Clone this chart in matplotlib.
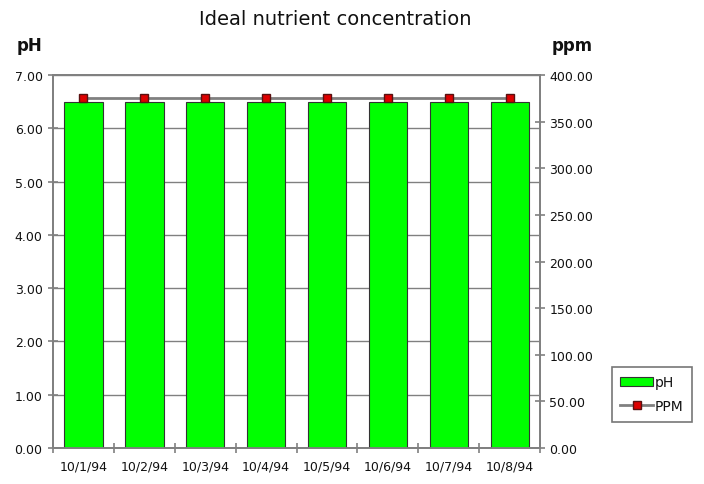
import matplotlib
matplotlib.use("Agg")
import matplotlib.pyplot as plt
import numpy as np

dates = ["10/1/94", "10/2/94", "10/3/94", "10/4/94",
         "10/5/94", "10/6/94", "10/7/94", "10/8/94"]
ph_values = [6.5, 6.5, 6.5, 6.5, 6.5, 6.5, 6.5, 6.5]
ppm_values = [375, 375, 375, 375, 375, 375, 375, 375]
ph_ticks = [0, 1, 2, 3, 4, 5, 6, 7]
ppm_ticks = [0, 50, 100, 150, 200, 250, 300, 350, 400]

GREEN = "#00ff00"
GRID = "#808080"
INK = "#111111"

plt.rcParams["font.family"] = ["DejaVu Sans"]
plt.rcParams["font.size"] = 9
plt.rcParams["text.color"] = INK
plt.rcParams["xtick.labelcolor"] = INK
plt.rcParams["ytick.labelcolor"] = INK

fig = plt.figure(figsize=(7.04, 4.85), dpi=100)
ax = fig.add_axes([0.0753, 0.0742, 0.692, 0.769])
x = np.arange(len(dates))

bars = ax.bar(x, ph_values, width=0.63, color=GREEN, edgecolor="#333333",
              linewidth=0.8, zorder=3, label="pH")
ax.set_xlim(-0.5, len(dates) - 0.5)
ax.set_ylim(0, 7)
ax.set_yticks(ph_ticks)
ax.set_yticklabels([f"{v:.2f}" for v in ph_ticks])
ax.set_xticks(x)
ax.set_xticklabels(dates)
# category separators cross the bottom axis
ax.set_xticks(np.arange(len(dates) + 1) - 0.5, minor=True)
ax.tick_params(axis="x", which="major", length=0, pad=8)
ax.tick_params(axis="x", which="minor", direction="inout", length=7,
               color=GRID, width=1.2)
ax.tick_params(axis="y", direction="inout", length=7, color=GRID, width=1.2,
               pad=4)
ax.grid(axis="y", color=GRID, linewidth=1.0, zorder=0)
for s in ax.spines.values():
    s.set_color(GRID)
    s.set_linewidth(1.3)

ax2 = ax.twinx()
line, = ax2.plot(x, ppm_values, color=GRID, linewidth=2.0, marker="s",
                 markersize=5.5, markerfacecolor="#dd0000",
                 markeredgecolor="#5a1010", zorder=4, label="PPM")
ax2.set_ylim(0, 400)
ax2.set_yticks(ppm_ticks)
ax2.set_yticklabels([f"{v:.2f}" for v in ppm_ticks])
ax2.tick_params(axis="y", direction="inout", length=7, color=GRID, width=1.2,
                pad=3)
for s in ax2.spines.values():
    s.set_color(GRID)
    s.set_linewidth(1.3)

fig.text(0.476, 0.959, "Ideal nutrient concentration", ha="center",
         va="center", fontsize=14)
fig.text(0.042, 0.905, "pH", ha="center", va="center", fontsize=12,
         fontweight="bold")
fig.text(0.813, 0.905, "ppm", ha="center", va="center", fontsize=12,
         fontweight="bold")

leg = fig.legend([bars, line], ["pH", "PPM"], loc="upper left",
                 bbox_to_anchor=(0.869, 0.241), frameon=True, fancybox=False,
                 fontsize=10, handlelength=2.4, handletextpad=0.1,
                 borderpad=0.6, labelspacing=0.7, borderaxespad=0)
leg.get_frame().set_edgecolor("#555555")
leg.get_frame().set_linewidth(1.2)

fig.savefig("out.png", dpi=100, facecolor="white")
